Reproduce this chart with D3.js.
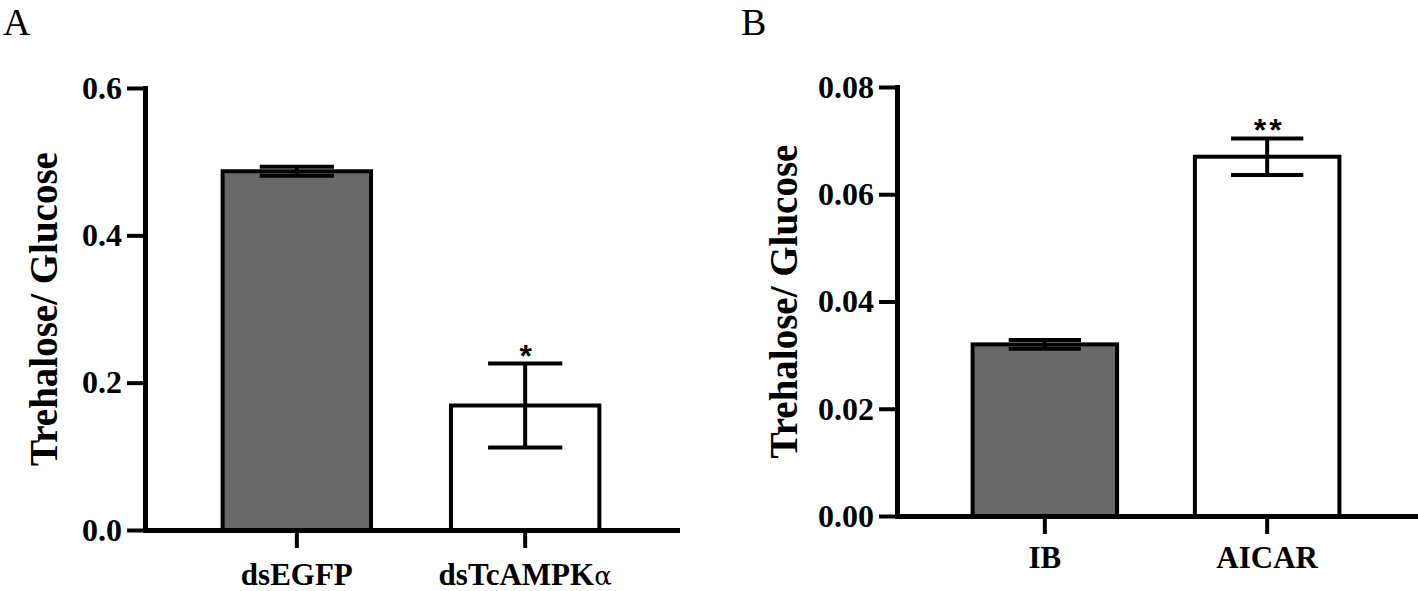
<!DOCTYPE html>
<html>
<head>
<meta charset="utf-8">
<script src="https://cdn.jsdelivr.net/npm/d3@7"></script>
<style>
  body { margin: 0; background: #fff; }
  svg { display: block; }
  .axis text { font-family: 'Liberation Serif', 'Times New Roman', serif; font-weight: bold; fill: #000; }
</style>
</head>
<body>
<svg id="chart" width="1418" height="591"></svg>
<script>
// panel A
var groupsA = ['dsEGFP', 'dsTcAMPK'];
var meansA = [0.487, 0.169];
var errA = [0.006, 0.057];
var marksA = ['', '*'];
var ticksA = [0, 0.2, 0.4, 0.6];

// panel B
var groupsB = ['IB', 'AICAR'];
var meansB = [0.032, 0.067];
var errB = [0.0008, 0.0034];
var marksB = ['', '**'];
var ticksB = [0, 0.02, 0.04, 0.06, 0.08];

var fills = ['#696969', '#ffffff'];

var svg = d3.select('#chart');

function drawPanel(opt) {
  var g = svg.append('g');

  var xScale = d3.scaleBand()
    .domain(opt.groups)
    .range([opt.left, opt.right])
    .paddingInner(0.35)
    .paddingOuter(0.34);
  var yScale = d3.scaleLinear()
    .domain([0, opt.max])
    .range([opt.bottom, opt.top]);

  var data = opt.groups.map(function (d, i) {
    return { name: d, mean: opt.means[i], err: opt.errs[i], mark: opt.marks[i], fill: fills[i] };
  });

  // bars
  g.selectAll('rect.bar')
    .data(data)
    .enter()
    .append('rect')
    .attr('class', 'bar')
    .attr('x', function (d) { return xScale(d.name); })
    .attr('y', function (d) { return yScale(d.mean); })
    .attr('width', xScale.bandwidth())
    .attr('height', function (d) { return yScale(0) - yScale(d.mean); })
    .attr('fill', function (d) { return d.fill; })
    .attr('stroke', '#000')
    .attr('stroke-width', 4);

  // error bars
  var capW = xScale.bandwidth() / 2;
  var eb = g.selectAll('g.err')
    .data(data)
    .enter()
    .append('g')
    .attr('class', 'err')
    .attr('stroke', '#000')
    .attr('stroke-width', 4);
  eb.append('line')
    .attr('x1', function (d) { return xScale(d.name) + xScale.bandwidth() / 2; })
    .attr('x2', function (d) { return xScale(d.name) + xScale.bandwidth() / 2; })
    .attr('y1', function (d) { return yScale(d.mean - d.err); })
    .attr('y2', function (d) { return yScale(d.mean + d.err); });
  eb.append('line')
    .attr('x1', function (d) { return xScale(d.name) + xScale.bandwidth() / 2 - capW / 2; })
    .attr('x2', function (d) { return xScale(d.name) + xScale.bandwidth() / 2 + capW / 2; })
    .attr('y1', function (d) { return yScale(d.mean + d.err); })
    .attr('y2', function (d) { return yScale(d.mean + d.err); });
  eb.append('line')
    .attr('x1', function (d) { return xScale(d.name) + xScale.bandwidth() / 2 - capW / 2; })
    .attr('x2', function (d) { return xScale(d.name) + xScale.bandwidth() / 2 + capW / 2; })
    .attr('y1', function (d) { return yScale(d.mean - d.err); })
    .attr('y2', function (d) { return yScale(d.mean - d.err); });

  // significance marks
  g.selectAll('text.mark')
    .data(data)
    .enter()
    .append('text')
    .attr('class', 'mark')
    .attr('x', function (d) { return xScale(d.name) + xScale.bandwidth() / 2 + 2; })
    .attr('y', function (d) { return yScale(d.mean + d.err) + 3; })
    .attr('text-anchor', 'middle')
    .attr('font-family', 'Liberation Sans, Arial, sans-serif')
    .attr('font-weight', 'bold')
    .attr('font-size', '32px')
    .attr('letter-spacing', '3px')
    .text(function (d) { return d.mark; });

  // axes
  var yAxis = d3.axisLeft(yScale)
    .tickValues(opt.ticks)
    .tickFormat(d3.format(opt.fmt))
    .tickSize(18)
    .tickSizeOuter(0)
    .tickPadding(5);
  var xAxis = d3.axisBottom(xScale)
    .tickSize(18)
    .tickSizeOuter(0)
    .tickPadding(10)
    .tickFormat('');

  var ya = g.append('g')
    .attr('class', 'axis')
    .attr('transform', 'translate(' + opt.left + ',0)')
    .call(yAxis);
  ya.selectAll('text').attr('font-size', '32px');

  var xa = g.append('g')
    .attr('class', 'axis')
    .attr('transform', 'translate(0,' + opt.bottom + ')')
    .call(xAxis);

  g.selectAll('.axis path, .axis line')
    .attr('stroke', '#000')
    .attr('stroke-width', 5)
    .attr('stroke-linecap', 'square');
  g.selectAll('.axis .tick line').attr('stroke-linecap', 'butt').attr('stroke-width', 4);

  // category labels
  var lab = g.selectAll('text.cat')
    .data(data)
    .enter()
    .append('text')
    .attr('class', 'cat')
    .attr('x', function (d) { return xScale(d.name) + xScale.bandwidth() / 2; })
    .attr('y', opt.labelY)
    .attr('text-anchor', 'middle')
    .attr('font-family', 'Liberation Serif, Times New Roman, serif')
    .attr('font-weight', 'bold')
    .attr('font-size', '31px')
    .text(function (d) { return d.name; });
  if (opt.suffix) {
    lab.filter(function (d, i) { return i === 1; })
      .append('tspan')
      .attr('font-family', 'DejaVu Serif, serif')
      .attr('font-weight', 'normal')
      .attr('font-size', '26px')
      .text(opt.suffix);
  }

  // axis title
  g.append('text')
    .attr('transform', 'translate(' + opt.titleX + ',' + (opt.top + opt.bottom) / 2 + ') rotate(-90)')
    .attr('text-anchor', 'middle')
    .attr('font-family', 'Liberation Serif, Times New Roman, serif')
    .attr('font-weight', 'bold')
    .attr('font-size', '39px')
    .text('Trehalose/ Glucose');

  // panel letter
  g.append('text')
    .attr('x', opt.letterX)
    .attr('y', 35)
    .attr('font-family', 'Liberation Serif, Times New Roman, serif')
    .attr('font-size', '38px')
    .text(opt.letter);
}

drawPanel({
  groups: groupsA, means: meansA, errs: errA, marks: marksA, ticks: ticksA,
  max: 0.6, fmt: '.1f', left: 145, right: 677, top: 88, bottom: 530,
  labelY: 585, titleX: 57, letter: 'A', letterX: 3, suffix: 'α'
});
drawPanel({
  groups: groupsB, means: meansB, errs: errB, marks: marksB, ticks: ticksB,
  max: 0.08, fmt: '.2f', left: 897, right: 1415, top: 87, bottom: 516,
  labelY: 568, titleX: 797, letter: 'B', letterX: 741
});
</script>
</body>
</html>
